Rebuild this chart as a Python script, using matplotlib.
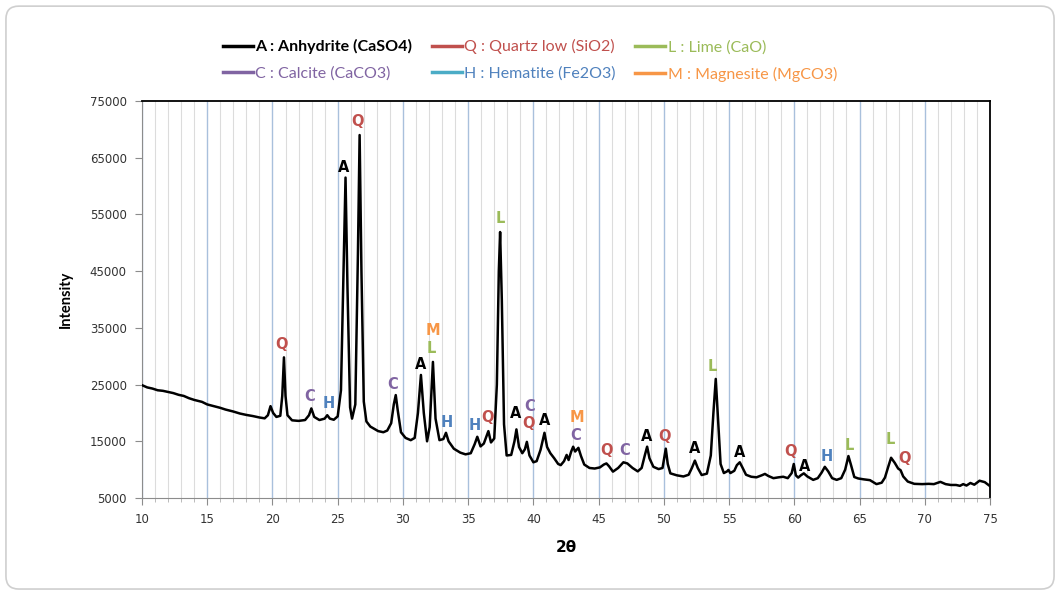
import matplotlib.pyplot as plt
from matplotlib.lines import Line2D
from matplotlib.patches import FancyBboxPatch
from matplotlib.ticker import MultipleLocator

# XRD pattern (2theta, counts)
two_theta = [10.0, 10.4, 10.8, 11.2, 11.6, 12.0, 12.4, 12.8, 13.2, 13.6, 14.0, 14.6, 15.0, 15.5, 16.0,
             16.4, 17.0, 17.5, 18.0, 18.5, 19.0, 19.4, 19.65, 19.85, 20.05, 20.3, 20.6, 20.75, 20.88, 21.0,
             21.15, 21.5, 22.0, 22.5, 22.8, 22.98, 23.2, 23.6, 24.0, 24.2, 24.4, 24.7, 25.0, 25.25, 25.45,
             25.6, 25.75, 25.95, 26.1, 26.35, 26.55, 26.68, 26.82, 27.0, 27.2, 27.5, 27.8, 28.1, 28.5, 28.8,
             29.1, 29.3, 29.45, 29.6, 29.85, 30.2, 30.6, 30.9, 31.15, 31.38, 31.6, 31.85, 32.05, 32.3, 32.5,
             32.8, 33.1, 33.3, 33.5, 33.9, 34.4, 34.8, 35.2, 35.5, 35.7, 35.95, 36.2, 36.55, 36.75, 37.0,
             37.2, 37.35, 37.45, 37.58, 37.75, 37.95, 38.3, 38.55, 38.7, 38.9, 39.15, 39.35, 39.5, 39.7, 40.0,
             40.25, 40.55, 40.85, 41.05, 41.3, 41.6, 41.9, 42.1, 42.35, 42.55, 42.7, 42.9, 43.05, 43.2, 43.45,
             43.65, 43.9, 44.3, 44.7, 45.1, 45.4, 45.6, 45.8, 46.1, 46.5, 46.9, 47.2, 47.6, 48.0, 48.3,
             48.55, 48.72, 48.9, 49.2, 49.6, 49.9, 50.05, 50.15, 50.3, 50.5, 51.0, 51.5, 51.9, 52.15, 52.38,
             52.6, 52.9, 53.3, 53.6, 53.8, 53.98, 54.15, 54.35, 54.6, 54.85, 54.95, 55.1, 55.4, 55.6, 55.82,
             56.0, 56.3, 56.7, 57.1, 57.5, 57.75, 58.0, 58.4, 58.8, 59.15, 59.5, 59.8, 59.96, 60.12, 60.3,
             60.5, 60.73, 61.0, 61.45, 61.8, 62.1, 62.34, 62.6, 62.9, 63.25, 63.6, 63.9, 64.15, 64.35, 64.6,
             64.9, 65.3, 65.8, 66.3, 66.7, 66.95, 67.2, 67.42, 67.7, 67.96, 68.15, 68.35, 68.7, 69.2, 69.8,
             70.3, 70.7, 71.2, 71.6, 72.0, 72.4, 72.7, 72.95, 73.2, 73.5, 73.8, 74.2, 74.6, 75.0]
intensity = [24900, 24500, 24300, 24000, 23900, 23700, 23500, 23200, 23000, 22600, 22300, 21950, 21500, 21200, 20900,
             20600, 20250, 19900, 19650, 19450, 19200, 19050, 19600, 21200, 20000, 19300, 19500, 23000, 29800, 23000,
             19600, 18700, 18600, 18750, 19600, 20800, 19300, 18750, 19000, 19600, 19000, 18800, 19400, 24000, 45000,
             61500, 42000, 21000, 19000, 21500, 48000, 69000, 45000, 22000, 18500, 17600, 17200, 16800, 16600, 16900,
             18200, 21500, 23150, 20500, 16600, 15600, 15200, 15600, 20000, 26700, 20000, 15000, 17500, 29000, 19000,
             15200, 15400, 16500, 15000, 13700, 13000, 12700, 12900, 14500, 15800, 14100, 14600, 16800, 14800, 15500,
             25000, 45000, 51900, 40000, 18000, 12500, 12600, 15000, 17100, 14000, 12900, 13600, 14900, 12500, 11300,
             11500, 13500, 16500, 14000, 12900, 12000, 11000, 10800, 11500, 12600, 11700, 13200, 14050, 13200, 13850,
             12400, 10900, 10300, 10200, 10400, 10900, 11100, 10600, 9650, 10300, 11300, 11100, 10300, 9700, 10300,
             12600, 14050, 12000, 10500, 10100, 10300, 12300, 13700, 11000, 9350, 9000, 8800, 9100, 10300, 11600,
             10300, 9050, 9300, 12500, 20000, 26000, 19000, 11000, 9400, 9700, 9950, 9400, 9800, 10800, 11300,
             10500, 9100, 8750, 8650, 9000, 9250, 8900, 8500, 8650, 8750, 8500, 9400, 11000, 9000, 8600,
             9000, 9350, 8800, 8200, 8500, 9500, 10500, 9700, 8500, 8200, 8500, 10000, 12400, 10800, 8700,
             8450, 8300, 8150, 7450, 7700, 8600, 10500, 12100, 11200, 10200, 9900, 8800, 7900, 7500, 7450,
             7500, 7450, 7850, 7450, 7300, 7300, 7150, 7450, 7200, 7650, 7350, 8050, 7800, 7100]

# peak letters above the pattern
peak_letters = ['Q', 'C', 'H', 'A', 'Q', 'C', 'A', 'M', 'L', 'H', 'H', 'Q', 'L', 'A', 'C', 'Q',
                'A', 'M', 'C', 'Q', 'C', 'A', 'Q', 'A', 'L', 'A', 'Q', 'A', 'H', 'L', 'L', 'Q']
peak_x = [20.73, 22.87, 24.33, 25.48, 26.55, 29.23, 31.38, 32.3, 32.15, 33.37, 35.5, 36.5, 37.43, 38.66, 39.7, 39.66,
          40.88, 43.33, 43.26, 45.63, 47.0, 48.7, 50.08, 52.38, 53.68, 55.82, 59.73, 60.8, 62.49, 64.18, 67.39, 68.47]
peak_y = [32150, 22980, 21750, 63350, 71470, 25100, 28620, 34620, 31450, 18400, 17700, 19280, 54360, 19990, 21220, 18220,
          18750, 19280, 16110, 13460, 13460, 15930, 15930, 13810, 28270, 13110, 13290, 10640, 12400, 14340, 15230, 12050]

y_ticks = [5000, 15000, 25000, 35000, 45000, 55000, 65000, 75000]

phases = ['A : Anhydrite (CaSO4)', 'C : Calcite (CaCO3)', 'Q : Quartz low (SiO2)',
          'H : Hematite (Fe2O3)', 'L : Lime (CaO)', 'M : Magnesite (MgCO3)']
line_colors = ['black', '#8064a2', '#c0504d', '#4bacc6', '#9bbb59', '#f79646']
text_colors = ['black', '#8064a2', '#c0504d', '#4f81bd', '#9bbb59', '#f79646']
letter_colors = {'A': 'black', 'Q': '#c0504d', 'L': '#9bbb59', 'C': '#8064a2', 'H': '#4f81bd', 'M': '#f79646'}

fig = plt.figure(figsize=(10.63, 5.96), dpi=100)
ax = fig.add_axes([0.1336, 0.1644, 0.7977, 0.6661])

ax.plot(two_theta, intensity, color='black', lw=1.8, zorder=3)

for letter, x, y in zip(peak_letters, peak_x, peak_y):
    ax.text(x, y, letter, color=letter_colors[letter], fontsize=10.5, fontweight='bold',
            ha='center', va='center', zorder=4)

ax.set_xlim(10, 75)
ax.set_ylim(5000, 75000)
ax.xaxis.set_major_locator(MultipleLocator(5))
ax.xaxis.set_minor_locator(MultipleLocator(1))
ax.set_yticks(y_ticks)
ax.grid(True, axis='x', which='minor', color='#dcdcdc', lw=0.8)
ax.grid(True, axis='x', which='major', color='#a9c0dc', lw=1.0)
ax.set_axisbelow(True)

for s in ['left', 'bottom']:
    ax.spines[s].set_color('#8c8c8c')
for s in ['top', 'right']:
    ax.spines[s].set_color('black')
    ax.spines[s].set_linewidth(1.3)

ax.tick_params(which='major', direction='out', length=5, color='#8c8c8c', labelsize=8.5,
               labelcolor='#333333', pad=6)
ax.tick_params(axis='x', which='minor', direction='out', length=3, color='#b0b0b0')
ax.tick_params(axis='y', which='minor', length=0)

ax.set_ylabel('Intensity', fontsize=10.5, fontweight='bold', family='Lato', labelpad=12)
ax.set_xlabel('2θ', fontsize=11, fontweight='bold', labelpad=10)

handles = [Line2D([0], [0], color=c, lw=2.5) for c in line_colors]
leg = fig.legend(handles, phases, ncol=3, loc='upper left', bbox_to_anchor=(0.196, 0.958),
                 frameon=False, prop={'family': 'Lato', 'size': 11.5}, handlelength=1.9,
                 handletextpad=0.15, columnspacing=1.2, labelspacing=0.75)
for t, c in zip(leg.get_texts(), text_colors):
    t.set_color(c)
leg.get_texts()[0].set_fontweight('bold')

# light rounded frame round the chart
frame = FancyBboxPatch((0.0056, 0.0117), 0.986, 0.978, boxstyle='round,pad=0,rounding_size=0.012',
                       mutation_aspect=1063 / 596, transform=fig.transFigure, facecolor='none',
                       edgecolor='#cfcfcf', lw=1.2)
fig.patches.append(frame)

plt.savefig('out.png', dpi=100)
